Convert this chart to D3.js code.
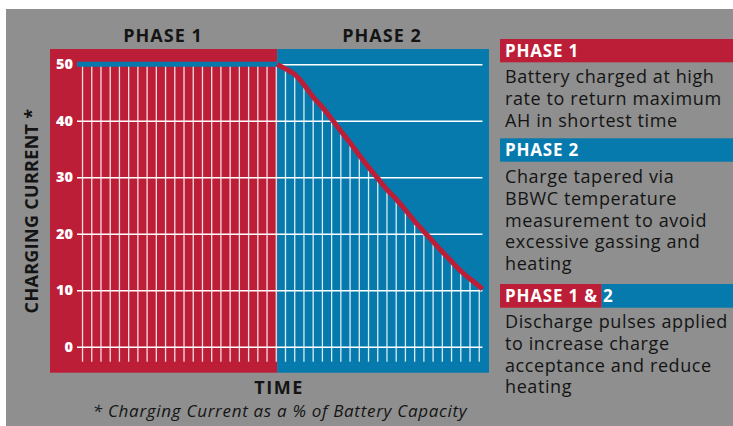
<!DOCTYPE html>
<html><head><meta charset="utf-8">
<script src="https://cdn.jsdelivr.net/npm/d3@7"></script>
<style>
html,body{margin:0;padding:0;background:#fff;}
svg{display:block;font-family:"Open Sans",Lato,sans-serif;}
</style></head>
<body>
<svg id="chart" width="733" height="426"></svg>
<script>
// ---- data ----
const yTicks = [0, 10, 20, 30, 40, 50];
const pulses = d3.range(44);            // discharge pulse index along the time axis
const phaseEnd = 21.1;                  // time where phase 1 ends
const phase1Level = 50;                 // charging current in phase 1
const curveTime  = [21.1, 22, 23, 24, 25, 26, 27, 28, 29, 30, 31, 32, 33, 34, 35, 36, 37, 38, 39, 40, 41, 42, 43, 43.35];
const curveValue = [50, 49.2, 48.2, 46.4, 44.2, 42.4, 40.3, 38.2, 36.1, 33.9, 31.8, 29.8, 27.8, 26.1, 24.2, 22.2, 20.4, 18.6, 16.8, 15.1, 13.4, 12.0, 10.7, 10.2];
const phaseTitles = ["PHASE 1", "PHASE 2"];
const legendHeads = ["PHASE 1", "PHASE 2", "PHASE 1 & 2"];
const legendBodies = [
  ["Battery charged at high", "rate to return maximum", "AH in shortest time"],
  ["Charge tapered via", "BBWC temperature", "measurement to avoid", "excessive gassing and", "heating"],
  ["Discharge pulses applied", "to increase charge", "acceptance and reduce", "heating"]
];

const RED = "#bd1e37", BLUE = "#067aad", GRAY = "#8e8f8e", INK = "#141414";

const svg = d3.select("#chart");
svg.append("rect").attr("x", 6).attr("y", 9).attr("width", 727).attr("height", 417).attr("fill", GRAY);

// scales
const x = d3.scaleLinear().domain([-0.6, 43.3]).range([77, 482]);
const y = d3.scaleLinear().domain([0, 50]).range([346.7, 64.3]);
const tMin = -0.6, tMax = 43.35;
const valueOf = t => {
  if (t <= phaseEnd) return phase1Level;
  const i = d3.bisectLeft(curveTime, t);
  if (i <= 0) return curveValue[0];
  const t0 = curveTime[i-1], t1 = curveTime[i];
  return curveValue[i-1] + (curveValue[i]-curveValue[i-1])*(t-t0)/(t1-t0);
};

// panel
const panelTop = 49, panelBottom = 372.7, panelLeft = 50, panelRight = 489;
svg.append("rect").attr("x", panelLeft).attr("y", panelTop)
  .attr("width", x(phaseEnd) - panelLeft).attr("height", panelBottom - panelTop).attr("fill", RED);
svg.append("rect").attr("x", x(phaseEnd)).attr("y", panelTop)
  .attr("width", panelRight - x(phaseEnd)).attr("height", panelBottom - panelTop).attr("fill", BLUE);

// pulse lines
const pulseBottom = -2.65;
svg.append("g").selectAll("line").data(pulses).join("line")
  .attr("x1", d => x(d)).attr("x2", d => x(d))
  .attr("y1", y(pulseBottom)).attr("y2", d => y(valueOf(d)))
  .attr("stroke", "#fff").attr("stroke-width", 1.3).attr("stroke-opacity", 0.85);

// horizontal gridlines + axis
const yAxis = d3.axisLeft(y).tickValues(yTicks).tickSize(0).tickPadding(4);
const ga = svg.append("g").attr("transform", `translate(${x(tMin)},0)`).call(yAxis);
ga.select(".domain").remove();
ga.selectAll(".tick line").attr("x2", x(tMax) - x(tMin)).attr("stroke", "#fff").attr("stroke-width", 1.6);
ga.selectAll(".tick text").attr("fill", "#fff").attr("font-size", 14.5).attr("font-weight", 800)
  .attr("font-family", "'Open Sans', sans-serif");

// phase 1 level line
svg.append("line").attr("x1", x(tMin)).attr("x2", x(phaseEnd))
  .attr("y1", y(phase1Level)).attr("y2", y(phase1Level))
  .attr("stroke", BLUE).attr("stroke-width", 5);

// phase 2 taper curve
const line = d3.line().x(d => x(d[0])).y(d => y(d[1])).curve(d3.curveMonotoneX);
svg.append("path").datum(curveTime.map((t, i) => [t, curveValue[i]]))
  .attr("d", line).attr("fill", "none").attr("stroke", RED).attr("stroke-width", 5);

// titles
svg.append("g").selectAll("text").data(phaseTitles).join("text")
  .attr("x", (d, i) => i === 0 ? 163 : 382).attr("y", 42.3)
  .attr("text-anchor", "middle").attr("font-size", 18).attr("font-weight", 700)
  .attr("letter-spacing", 1).attr("fill", INK).text(d => d);

svg.append("text").attr("x", 279).attr("y", 393.5).attr("text-anchor", "middle")
  .attr("font-size", 18).attr("font-weight", 700).attr("letter-spacing", 1.5)
  .attr("fill", INK).text("TIME");

svg.append("text").attr("transform", "translate(38,211) rotate(-90)")
  .attr("text-anchor", "middle").attr("font-size", 18).attr("font-weight", 700)
  .attr("letter-spacing", 0.3).attr("fill", INK).text("CHARGING CURRENT *");

svg.append("text").attr("x", 280).attr("y", 416.5).attr("text-anchor", "middle")
  .attr("font-size", 17).attr("font-style", "italic").attr("letter-spacing", 0.7).attr("fill", INK)
  .text("* Charging Current as a % of Battery Capacity");

// legend
const legendX = 500, textX = 505;
const heads = [{y: 39, h: 23.3}, {y: 138.3, h: 23.4}, {y: 284, h: 23.7}];
const bodyStart = [83.3, 183.3, 328.3];
const lh = 21.7;
heads.forEach((hd, i) => {
  if (i < 2) {
    svg.append("rect").attr("x", legendX).attr("y", hd.y).attr("width", 733 - legendX).attr("height", hd.h)
      .attr("fill", i === 0 ? RED : BLUE);
  } else {
    svg.append("rect").attr("x", legendX).attr("y", hd.y).attr("width", 101.7).attr("height", hd.h).attr("fill", RED);
    svg.append("rect").attr("x", legendX + 101.7).attr("y", hd.y).attr("width", 733 - legendX - 101.7).attr("height", hd.h).attr("fill", BLUE);
  }
  svg.append("text").attr("x", textX).attr("y", hd.y + hd.h/2 + 6.2)
    .attr("font-size", 17).attr("font-weight", 700).attr("letter-spacing", 0.8)
    .attr("fill", "#fff").text(legendHeads[i]);
  svg.append("g").selectAll("text").data(legendBodies[i]).join("text")
    .attr("x", textX).attr("y", (d, j) => bodyStart[i] + j*lh)
    .attr("font-size", 18).attr("letter-spacing", 0.6).attr("fill", INK).text(d => d);
});
</script>
</body></html>
